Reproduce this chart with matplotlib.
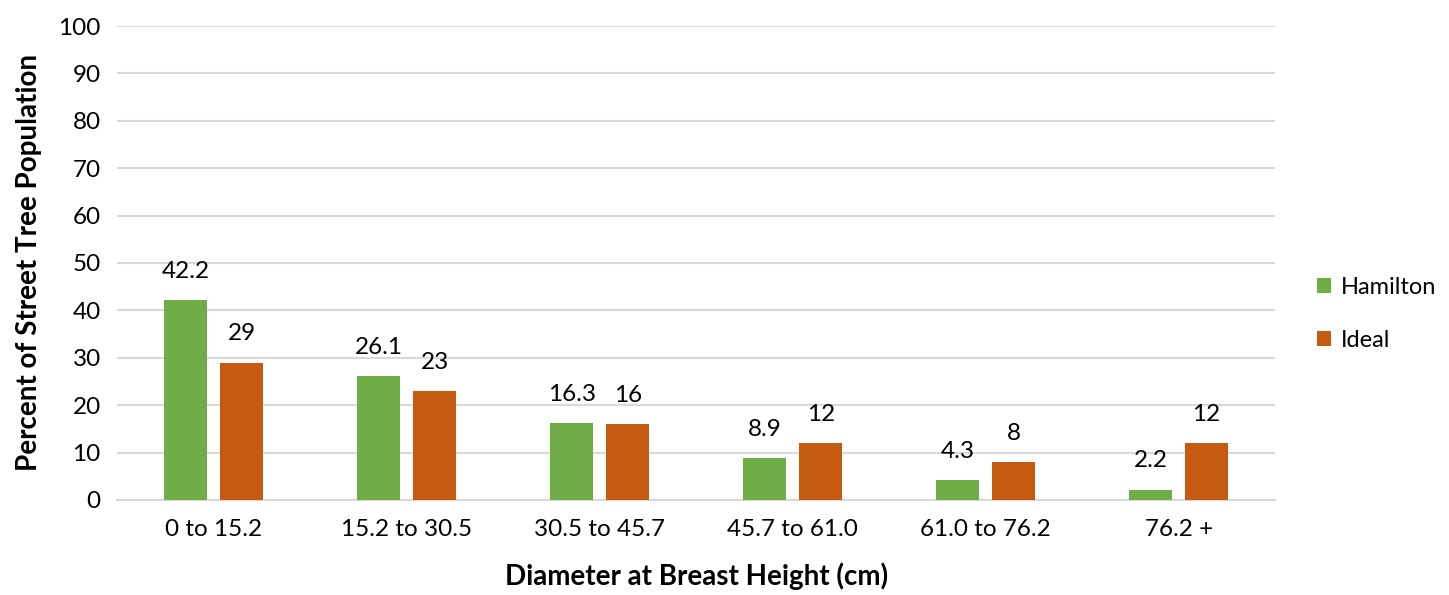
import matplotlib
matplotlib.use("Agg")
import matplotlib.pyplot as plt
import numpy as np

plt.rcParams["font.family"] = ["Lato", "DejaVu Sans"]

categories = ["0 to 15.2", "15.2 to 30.5", "30.5 to 45.7", "45.7 to 61.0", "61.0 to 76.2", "76.2 +"]
hamilton = [42.2, 26.1, 16.3, 8.9, 4.3, 2.2]
ideal = [29, 23, 16, 12, 8, 12]
hamilton_labels = ["42.2", "26.1", "16.3", "8.9", "4.3", "2.2"]
ideal_labels = ["29", "23", "16", "12", "8", "12"]

GREEN = "#70AD47"
ORANGE = "#C55A11"

fig = plt.figure(figsize=(14.49, 5.95), dpi=100)
ax = fig.add_axes([0.081, 0.1597, 0.799, 0.7966])

x = np.arange(len(categories))
w = 0.223
off = 0.145
b1 = ax.bar(x - off, hamilton, w, color=GREEN, label="Hamilton", zorder=3)
b2 = ax.bar(x + off, ideal, w, color=ORANGE, label="Ideal", zorder=3)

for bars, labs in [(b1, hamilton_labels), (b2, ideal_labels)]:
    for r, t in zip(bars, labs):
        ax.annotate(t, (r.get_x() + r.get_width() / 2, r.get_height()),
                    xytext=(0, 13), textcoords="offset points",
                    ha="center", va="bottom", fontsize=17.5, color="#000000")

ax.set_xlim(-0.5, len(categories) - 0.5)
ax.set_ylim(0, 100)
ax.set_yticks(range(0, 101, 10))
ax.set_xticks(x)
ax.set_xticklabels(categories)
ax.tick_params(axis="both", length=0, labelsize=17.5, colors="#000000")
ax.tick_params(axis="x", pad=14)
ax.tick_params(axis="y", pad=12)
ax.grid(axis="y", color="#D9D9D9", linewidth=1.5, zorder=0)
for s in ["top", "right", "left"]:
    ax.spines[s].set_visible(False)
ax.spines["bottom"].set_color("#D9D9D9")
ax.spines["bottom"].set_linewidth(1.5)

ax.set_xlabel("Diameter at Breast Height (cm)", fontsize=20, fontweight="bold", labelpad=16)
ax.set_ylabel("Percent of Street Tree Population", fontsize=20, fontweight="bold", labelpad=12)

ax.legend(loc="center left", bbox_to_anchor=(1.018, 0.392), frameon=False, fontsize=17,
          handlelength=0.6, handleheight=0.6, handletextpad=0.4, labelspacing=1.35)

fig.savefig("out.png", dpi=100)
